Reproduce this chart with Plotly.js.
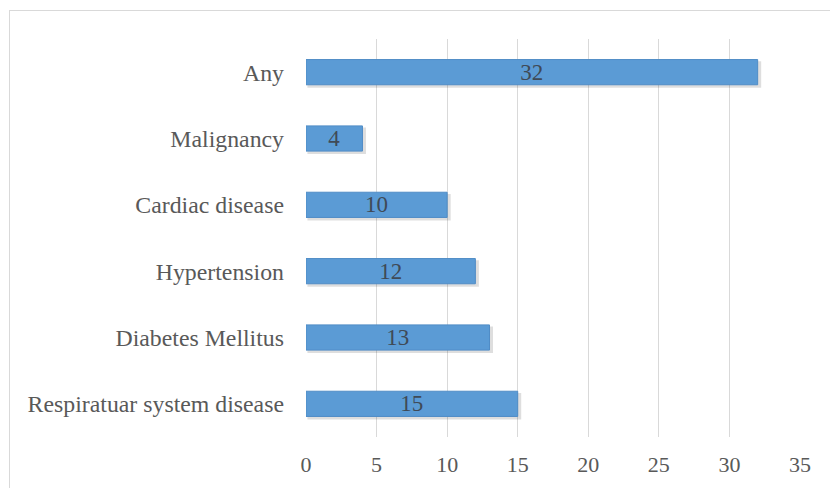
<!DOCTYPE html>
<html>
<head>
<meta charset="utf-8">
<script src="https://cdn.plot.ly/plotly-3.0.1.min.js"></script>
<style>
  html, body { margin: 0; padding: 0; background: #fff; }
  #frame { position: absolute; left: 9px; top: 10px; width: 830px; height: 490px; border: 1px solid #d9d9d9; box-sizing: border-box; }
  #chart { position: absolute; left: 0; top: 0; width: 830px; height: 488px; }
</style>
</head>
<body>
<div id="frame"></div>
<div id="chart"></div>
<script>
const categories = ["Respiratuar system disease", "Diabetes Mellitus", "Hypertension", "Cardiac disease", "Malignancy", "Any"];
const values = [15, 13, 12, 10, 4, 32];
const tickVals = [0, 5, 10, 15, 20, 25, 30, 35];

const FONT = 'Liberation Serif, Times New Roman, serif';

const shadow = {
  type: 'bar',
  orientation: 'h',
  y: categories,
  x: values.map(v => v + 0.15),
  base: 0.1,
  width: 0.4,
  offset: -0.235,
  marker: { color: 'rgba(0,0,0,0.13)', line: { width: 0 } },
  hoverinfo: 'none'
};

const trace = {
  type: 'bar',
  orientation: 'h',
  y: categories,
  x: values,
  width: 0.38,
  offset: -0.19,
  text: values.map(String),
  textposition: 'inside',
  insidetextanchor: 'middle',
  textangle: 0,
  constraintext: 'none',
  cliponaxis: false,
  textfont: { family: FONT, size: 23, color: '#3f4a57' },
  marker: { color: '#5b9bd5', line: { color: '#4f8cc6', width: 1 } },
  hoverinfo: 'none'
};

const layout = {
  width: 830, height: 488,
  margin: { l: 306, r: 30, t: 39, b: 51 },
  paper_bgcolor: 'rgba(0,0,0,0)',
  plot_bgcolor: 'rgba(0,0,0,0)',
  showlegend: false,
  barmode: 'overlay',
  uniformtext: { mode: false },
  font: { family: FONT, color: '#595959', size: 23 },
  xaxis: {
    range: [0, 35],
    tickvals: tickVals,
    ticktext: tickVals.map(String),
    showgrid: true, gridcolor: '#d9d9d9', gridwidth: 1,
    zeroline: false, showline: false, ticks: '',
    tickfont: { size: 22, color: '#595959' },
    ticklabelstandoff: 12
  },
  yaxis: {
    categoryorder: 'array', categoryarray: categories,
    showgrid: false, zeroline: false, showline: false, ticks: '',
    tickfont: { size: 23.8, color: '#595959' },
    ticklabelstandoff: 21
  }
};

Plotly.newPlot('chart', [shadow, trace], layout, { displayModeBar: false, staticPlot: true });
</script>
</body>
</html>
